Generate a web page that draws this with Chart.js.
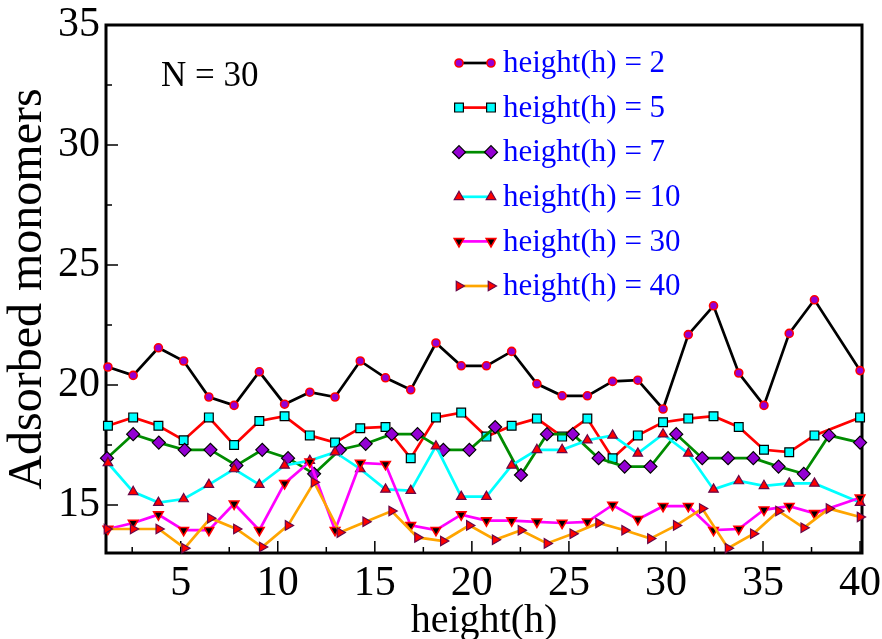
<!DOCTYPE html>
<html>
<head>
<meta charset="utf-8">
<title>Adsorbed monomers vs height</title>
<script src="https://cdn.jsdelivr.net/npm/chart.js@4.4.1/dist/chart.umd.min.js"></script>
<style>
  html, body { margin: 0; padding: 0; background: #fff; }
  #wrap { width: 882px; height: 639px; }
</style>
</head>
<body>
<div id="wrap"><canvas id="chart" width="882" height="639"></canvas></div>
<script>
// sample positions for h = 2, 5, 10, 30
const xGridA = [1.25, 2.55, 3.85, 5.15, 6.45, 7.75, 9.05, 10.35, 11.65, 12.95,
  14.25, 15.55, 16.85, 18.15, 19.45, 20.75, 22.05, 23.35, 24.65, 25.95,
  27.25, 28.55, 29.85, 31.15, 32.45, 33.75, 35.05, 36.35, 37.65, 40];
// sample positions for h = 7, 40
const xGridB = [1.2, 2.55, 3.87, 5.2, 6.53, 7.87, 9.2, 10.53, 11.87, 13.2,
  14.53, 15.87, 17.2, 18.53, 19.87, 21.2, 22.53, 23.87, 25.2, 26.53,
  27.87, 29.2, 30.53, 31.87, 33.2, 34.5, 35.8, 37.1, 38.4, 40];

const h2 = [20.75, 20.4, 21.55, 21.0, 19.5, 19.15, 20.55, 19.2, 19.7, 19.5,
  21.0, 20.3, 19.8, 21.75, 20.8, 20.8, 21.4, 20.05, 19.55, 19.55,
  20.15, 20.2, 19.0, 22.1, 23.3, 20.5, 19.15, 22.15, 23.55, 20.6];
const h5 = [18.3, 18.65, 18.3, 17.7, 18.65, 17.5, 18.5, 18.7, 17.9, 17.6,
  18.2, 18.25, 16.95, 18.65, 18.85, 17.85, 18.3, 18.6, 17.85, 18.6,
  16.95, 17.9, 18.45, 18.6, 18.7, 18.25, 17.3, 17.2, 17.9, 18.65];
const h7 = [16.95, 17.95, 17.6, 17.3, 17.3, 16.65, 17.3, 16.95, 16.3, 17.3,
  17.55, 17.95, 17.95, 17.3, 17.3, 18.25, 16.25, 17.95, 17.95, 16.95,
  16.6, 16.6, 17.95, 16.95, 16.95, 16.95, 16.6, 16.3, 17.9, 17.6];
const h10 = [16.75, 15.55, 15.1, 15.25, 15.85, 16.5, 15.85, 16.65, 16.85, 17.2,
  16.5, 15.65, 15.6, 17.45, 15.35, 15.35, 16.65, 17.3, 17.3, 17.7,
  17.9, 17.15, 17.95, 17.15, 15.65, 16.0, 15.8, 15.9, 15.9, 15.1];
const h30 = [14.0, 14.25, 14.6, 13.95, 13.95, 15.05, 13.95, 15.9, 16.8, 13.95,
  16.75, 16.7, 14.15, 13.95, 14.6, 14.35, 14.35, 14.3, 14.25, 14.3,
  15.0, 14.4, 14.95, 14.95, 13.95, 14.0, 14.8, 14.95, 14.65, 15.3];
const h40 = [14.0, 14.0, 14.0, 13.2, 14.45, 14.0, 13.25, 14.15, 15.95, 13.85,
  14.3, 14.75, 13.65, 13.5, 14.15, 13.55, 13.95, 13.4, 13.8, 14.25,
  13.95, 13.6, 14.15, 14.85, 13.2, 13.8, 14.75, 14.05, 14.85, 14.5];

const seriesLabels = ["height(h) = 2", "height(h) = 5", "height(h) = 7",
  "height(h) = 10", "height(h) = 30", "height(h) = 40"];

const xTicks = [5, 10, 15, 20, 25, 30, 35, 40];
const xMinorTicks = [2.5, 7.5, 12.5, 17.5, 22.5, 27.5, 32.5, 37.5];
const yTicks = [15, 20, 25, 30, 35];
const yMinorTicks = [17.5, 22.5, 27.5, 32.5];

const serif = '"Liberation Serif", "Times New Roman", serif';

function pts(xs, ys) {
  return ys.map((y, i) => ({ x: xs[i], y }));
}

function series(label, data, line, style) {
  return Object.assign({
    label,
    data,
    borderColor: line,
    borderWidth: 2.7,
    tension: 0,
    clip: false,
    pointBorderWidth: 1.2,
    pointRotation: 0
  }, style);
}

const datasets = [
  series(seriesLabels[0], pts(xGridA, h2), "#000000", {
    pointStyle: "circle", pointRadius: 4,
    pointBackgroundColor: "#9400d3", pointBorderColor: "#ff0000", pointBorderWidth: 1.6, order: 5
  }),
  series(seriesLabels[1], pts(xGridA, h5), "#ff0000", {
    pointStyle: "rect", pointRadius: 6.2,
    pointBackgroundColor: "#00ffff", pointBorderColor: "#000000", order: 4
  }),
  series(seriesLabels[2], pts(xGridB, h7), "#008b00", {
    pointStyle: "rectRot", pointRadius: 6.5,
    pointBackgroundColor: "#9400d3", pointBorderColor: "#000000", order: 3
  }),
  series(seriesLabels[3], pts(xGridA, h10), "#00ffff", {
    pointStyle: "triangle", pointRadius: 5.5,
    pointBackgroundColor: "#ff0000", pointBorderColor: "#670748", order: 2
  }),
  series(seriesLabels[4], pts(xGridA, h30), "#ff00ff", {
    pointStyle: "triangle", pointRadius: 5.5, pointRotation: 180,
    pointBackgroundColor: "#000000", pointBorderColor: "#ff0000", pointBorderWidth: 1.6, order: 1
  }),
  series(seriesLabels[5], pts(xGridB, h40), "#ffa500", {
    pointStyle: "triangle", pointRadius: 5.5, pointRotation: 90,
    pointBackgroundColor: "#ff0000", pointBorderColor: "#670748", order: 0
  })
];

// box around the plot plus inward tick marks
const framePlugin = {
  id: "frame",
  beforeDatasetsDraw(chart) {
    const { ctx, chartArea: a, scales } = chart;
    ctx.save();
    ctx.strokeStyle = "#000";
    ctx.lineWidth = 1.5;
    ctx.beginPath();
    xTicks.forEach(v => {
      const px = scales.x.getPixelForValue(v);
      ctx.moveTo(px, a.bottom); ctx.lineTo(px, a.bottom - 12);
    });
    xMinorTicks.forEach(v => {
      const px = scales.x.getPixelForValue(v);
      ctx.moveTo(px, a.bottom); ctx.lineTo(px, a.bottom - 6);
    });
    yTicks.forEach(v => {
      const py = scales.y.getPixelForValue(v);
      ctx.moveTo(a.left, py); ctx.lineTo(a.left + 12, py);
    });
    yMinorTicks.forEach(v => {
      const py = scales.y.getPixelForValue(v);
      ctx.moveTo(a.left, py); ctx.lineTo(a.left + 6, py);
    });
    ctx.stroke();
    ctx.lineWidth = 3;
    ctx.strokeRect(a.left, a.top, a.right - a.left, a.bottom - a.top);
    ctx.restore();
  }
};

// legend box and "N = 30" note inside the plot
const notePlugin = {
  id: "notes",
  afterDraw(chart) {
    const ctx = chart.ctx;
    ctx.save();
    ctx.fillStyle = "#000";
    ctx.font = "35px " + serif;
    ctx.textBaseline = "middle";
    ctx.fillText("N = 30", 161, 77);

    chart.data.datasets.forEach((ds, i) => {
      const y = 63 + i * 44.6;
      ctx.strokeStyle = ds.borderColor;
      ctx.lineWidth = ds.borderWidth;
      ctx.beginPath();
      ctx.moveTo(459, y);
      ctx.lineTo(491, y);
      ctx.stroke();
      [459, 491].forEach(px => {
        ctx.fillStyle = ds.pointBackgroundColor;
        ctx.strokeStyle = ds.pointBorderColor;
        ctx.lineWidth = ds.pointBorderWidth;
        Chart.helpers.drawPoint(ctx, {
          pointStyle: ds.pointStyle,
          rotation: ds.pointRotation,
          radius: ds.pointRadius,
          borderWidth: ds.pointBorderWidth
        }, px, y);
      });
      ctx.fillStyle = "#0000ff";
      ctx.font = "31px " + serif;
      ctx.textBaseline = "middle";
      ctx.fillText(ds.label, 503, y + 1);
    });
    ctx.restore();
  }
};

new Chart(document.getElementById("chart"), {
  type: "line",
  data: { datasets },
  options: {
    responsive: false,
    animation: false,
    devicePixelRatio: 1,
    layout: { padding: { top: 25, right: 20, bottom: 0, left: 0 } },
    plugins: { legend: { display: false }, tooltip: { enabled: false } },
    scales: {
      x: {
        type: "linear",
        min: 1.15,
        max: 40.1,
        afterBuildTicks: s => { s.ticks = xTicks.map(v => ({ value: v })); },
        afterFit: s => { s.height = 86; s.paddingLeft = 0; s.paddingRight = 0; },
        grid: { display: false, drawTicks: false },
        border: { display: false },
        ticks: {
          color: "#000", font: { family: serif, size: 42 },
          padding: 6, maxRotation: 0, autoSkip: false
        },
        title: {
          display: true, text: "height(h)", color: "#000",
          font: { family: serif, size: 40 }, padding: { top: 0, bottom: -6 }
        }
      },
      y: {
        min: 13,
        max: 35,
        afterBuildTicks: s => { s.ticks = yTicks.map(v => ({ value: v })); },
        afterFit: s => { s.width = 106; s.paddingTop = 0; s.paddingBottom = 0; },
        grid: { display: false, drawTicks: false },
        border: { display: false },
        ticks: {
          color: "#000", font: { family: serif, size: 42 },
          padding: 6, autoSkip: false
        },
        title: {
          display: true, text: "Adsorbed monomers", color: "#000",
          font: { family: serif, size: 48 }, padding: { top: 0, bottom: 0 }
        }
      }
    }
  },
  plugins: [framePlugin, notePlugin]
});
</script>
</body>
</html>
